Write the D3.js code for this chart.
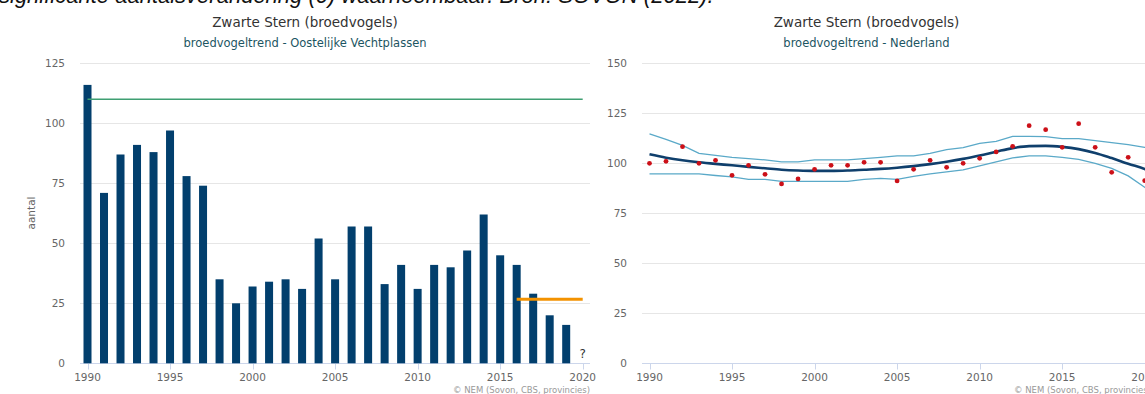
<!DOCTYPE html>
<html>
<head>
<meta charset="utf-8">
<script src="https://cdn.jsdelivr.net/npm/d3@7"></script>
<style>
  body { margin: 0; background: #fff; }
  text { font-family: "DejaVu Sans", "Open Sans", sans-serif; }
  .tick-label { font-size: 10.5px; fill: #666; }
  .title { font-size: 13.5px; fill: #333; }
  .subtitle { font-size: 11.5px; fill: #1c5562; }
  .credit { font-size: 8.5px; fill: #999; }
</style>
</head>
<body>
<svg id="chart" width="1145" height="394"></svg>
<script>
// left chart: counts per year, Oostelijke Vechtplassen
var barYears = [1990,1991,1992,1993,1994,1995,1996,1997,1998,1999,2000,2001,2002,2003,2004,
                2005,2006,2007,2008,2009,2010,2011,2012,2013,2014,2015,2016,2017,2018,2019];
var barValues = [116,71,87,91,88,97,78,74,35,25,32,34,35,31,52,
                 35,57,57,33,41,31,41,40,47,62,45,41,29,20,16];
var referenceLevel = [{year: 1990, value: 110}, {year: 2020, value: 110}];
var targetLevel = [{year: 2016, value: 26.7}, {year: 2020, value: 26.7}];

// right chart: index Nederland
var trendYears = [1990,1991,1992,1993,1994,1995,1996,1997,1998,1999,2000,2001,2002,2003,2004,2005,
                  2006,2007,2008,2009,2010,2011,2012,2013,2014,2015,2016,2017,2018,2019,2020,2021];
var indexValues = [100,101,108.3,100,101.5,94,99,94.5,89.7,92.2,97,99,99,100.5,100.5,91.2,
                   97,101.5,98,100,102.5,105.7,108.5,118.8,116.8,108,119.8,108,95.5,103,91.3,null];
var trendValues = [104.5,102.8,101.5,100.5,99.7,99,98.2,97.5,96.8,96.4,96.2,96.2,96.4,96.8,97.2,97.8,
                   98.6,99.6,100.8,102.2,103.9,105.8,107.6,108.6,108.7,108.2,107.1,105.2,102.6,99.8,97.2,94];
var upperValues = [114.7,112,109,105,104,103,102.3,101.7,100.7,100.7,101.7,101.7,101.7,102.3,103,103.7,
                   103.7,105,106.8,107.8,110,111,113.5,113.5,113.3,112.3,112.3,111.3,110.3,109.3,108,106];
var lowerValues = [94.7,94.7,94.7,94.7,93.9,93.2,92,92,91,91,91,91,91,92,92.5,92,
                   93.5,94.7,95.7,96.7,98.7,100.7,102.7,103.7,103.7,103,102,100,97.5,93.7,88,82];

var leftTicks = [0, 25, 50, 75, 100, 125];
var rightTicks = [0, 25, 50, 75, 100, 125, 150];
var yearTicks = [1990, 1995, 2000, 2005, 2010, 2015, 2020];

var svg = d3.select('#chart');

// cut-off caption line at the very top
svg.append('text')
  .attr('x', -1)
  .attr('y', 3)
  .style('font-family', '"Liberation Sans", Arial, sans-serif')
  .style('font-style', 'italic')
  .style('font-size', '22px')
  .style('fill', '#111')
  .text('significante aantalsverandering (0) waarneembaar. Bron: SOVON (2022).');

function drawFrame(opt) {
  var g = svg.append('g');
  var x = opt.x, y = opt.y;

  // titles
  g.append('text').attr('class', 'title')
    .attr('x', opt.center).attr('y', 27).attr('text-anchor', 'middle')
    .text('Zwarte Stern (broedvogels)');
  g.append('text').attr('class', 'subtitle')
    .attr('x', opt.center).attr('y', 47).attr('text-anchor', 'middle')
    .text(opt.subtitle);

  // grid
  g.selectAll('.grid')
    .data(opt.ticks.filter(function(d) { return d > 0; }))
    .enter().append('line')
    .attr('x1', opt.left).attr('x2', opt.right)
    .attr('y1', function(d) { return Math.round(y(d)) + 0.5; })
    .attr('y2', function(d) { return Math.round(y(d)) + 0.5; })
    .style('stroke', '#e6e6e6');

  // y labels
  g.selectAll('.ylab')
    .data(opt.ticks)
    .enter().append('text')
    .attr('class', 'tick-label')
    .attr('x', opt.left - 15)
    .attr('y', function(d) { return y(d) + 4; })
    .attr('text-anchor', 'end')
    .text(function(d) { return d; });

  // x axis
  var base = Math.round(y(0)) + 0.5;
  g.append('line')
    .attr('x1', opt.left).attr('x2', opt.right)
    .attr('y1', base).attr('y2', base)
    .style('stroke', '#ccd6eb');
  g.selectAll('.xtick')
    .data(yearTicks)
    .enter().append('line')
    .attr('x1', function(d) { return Math.round(x(d)) + 0.5; })
    .attr('x2', function(d) { return Math.round(x(d)) + 0.5; })
    .attr('y1', base).attr('y2', base + 6)
    .style('stroke', '#ccd6eb');
  g.selectAll('.xlab')
    .data(yearTicks)
    .enter().append('text')
    .attr('class', 'tick-label')
    .attr('x', function(d) { return x(d); })
    .attr('y', 381)
    .attr('text-anchor', 'middle')
    .text(function(d) { return d; });

  g.append('text').attr('class', 'credit')
    .attr('x', opt.creditRight).attr('y', 393)
    .attr('text-anchor', 'end')
    .text('\u00a9 NEM (Sovon, CBS, provincies)');
  return g;
}

// ---- left chart ----
var xL = d3.scaleLinear().domain([1990, 2020]).range([87.5, 582.7]);
var yL = d3.scaleLinear().domain([0, 125]).range([363.3, 63.3]);

var gL = drawFrame({x: xL, y: yL, ticks: leftTicks, left: 80, right: 590, center: 305,
                    creditRight: 590, subtitle: 'broedvogeltrend - Oostelijke Vechtplassen'});

gL.append('text')
  .attr('class', 'tick-label')
  .attr('transform', 'translate(35,213) rotate(-90)')
  .attr('text-anchor', 'middle')
  .text('aantal');

gL.selectAll('.bar')
  .data(barYears)
  .enter().append('rect')
  .attr('x', function(d) { return xL(d) - 4; })
  .attr('width', 8)
  .attr('y', function(d, i) { return yL(barValues[i]); })
  .attr('height', function(d, i) { return yL(0) - yL(barValues[i]); })
  .style('fill', '#023f6d');

var levelLine = d3.line()
  .x(function(d) { return xL(d.year); })
  .y(function(d) { return yL(d.value); });

gL.append('path')
  .attr('d', levelLine(referenceLevel))
  .style('fill', 'none')
  .style('stroke', '#3f9f72')
  .style('stroke-width', 1.4);

gL.append('path')
  .attr('d', levelLine(targetLevel))
  .style('fill', 'none')
  .style('stroke', '#f39200')
  .style('stroke-width', 3);

gL.append('text')
  .attr('x', xL(2020))
  .attr('y', 358)
  .attr('text-anchor', 'middle')
  .style('font-size', '12px')
  .style('fill', '#333')
  .text('?');

// ---- right chart ----
var xR = d3.scaleLinear().domain([1990, 2020]).range([649.5, 1144.7]);
var yR = d3.scaleLinear().domain([0, 150]).range([363.3, 63.3]);

var gR = drawFrame({x: xR, y: yR, ticks: rightTicks, left: 642, right: 1170, center: 866.5,
                    creditRight: 1151, subtitle: 'broedvogeltrend - Nederland'});

function seriesLine(values, curve) {
  return d3.line()
    .defined(function(d, i) { return values[i] != null; })
    .x(function(d) { return xR(d); })
    .y(function(d, i) { return yR(values[i]); })
    .curve(curve)(trendYears);
}

gR.append('path')
  .attr('d', seriesLine(upperValues, d3.curveLinear))
  .style('fill', 'none').style('stroke', '#5aa9c8').style('stroke-width', 1.3);
gR.append('path')
  .attr('d', seriesLine(lowerValues, d3.curveLinear))
  .style('fill', 'none').style('stroke', '#5aa9c8').style('stroke-width', 1.3);
gR.append('path')
  .attr('d', seriesLine(trendValues, d3.curveMonotoneX))
  .style('fill', 'none').style('stroke', '#0f3f6c').style('stroke-width', 2.6);

gR.selectAll('.dot')
  .data(trendYears.filter(function(d, i) { return indexValues[i] != null; }))
  .enter().append('circle')
  .attr('cx', function(d) { return xR(d); })
  .attr('cy', function(d) { return yR(indexValues[trendYears.indexOf(d)]); })
  .attr('r', 2.4)
  .style('fill', '#cc1018');
</script>
</body>
</html>
